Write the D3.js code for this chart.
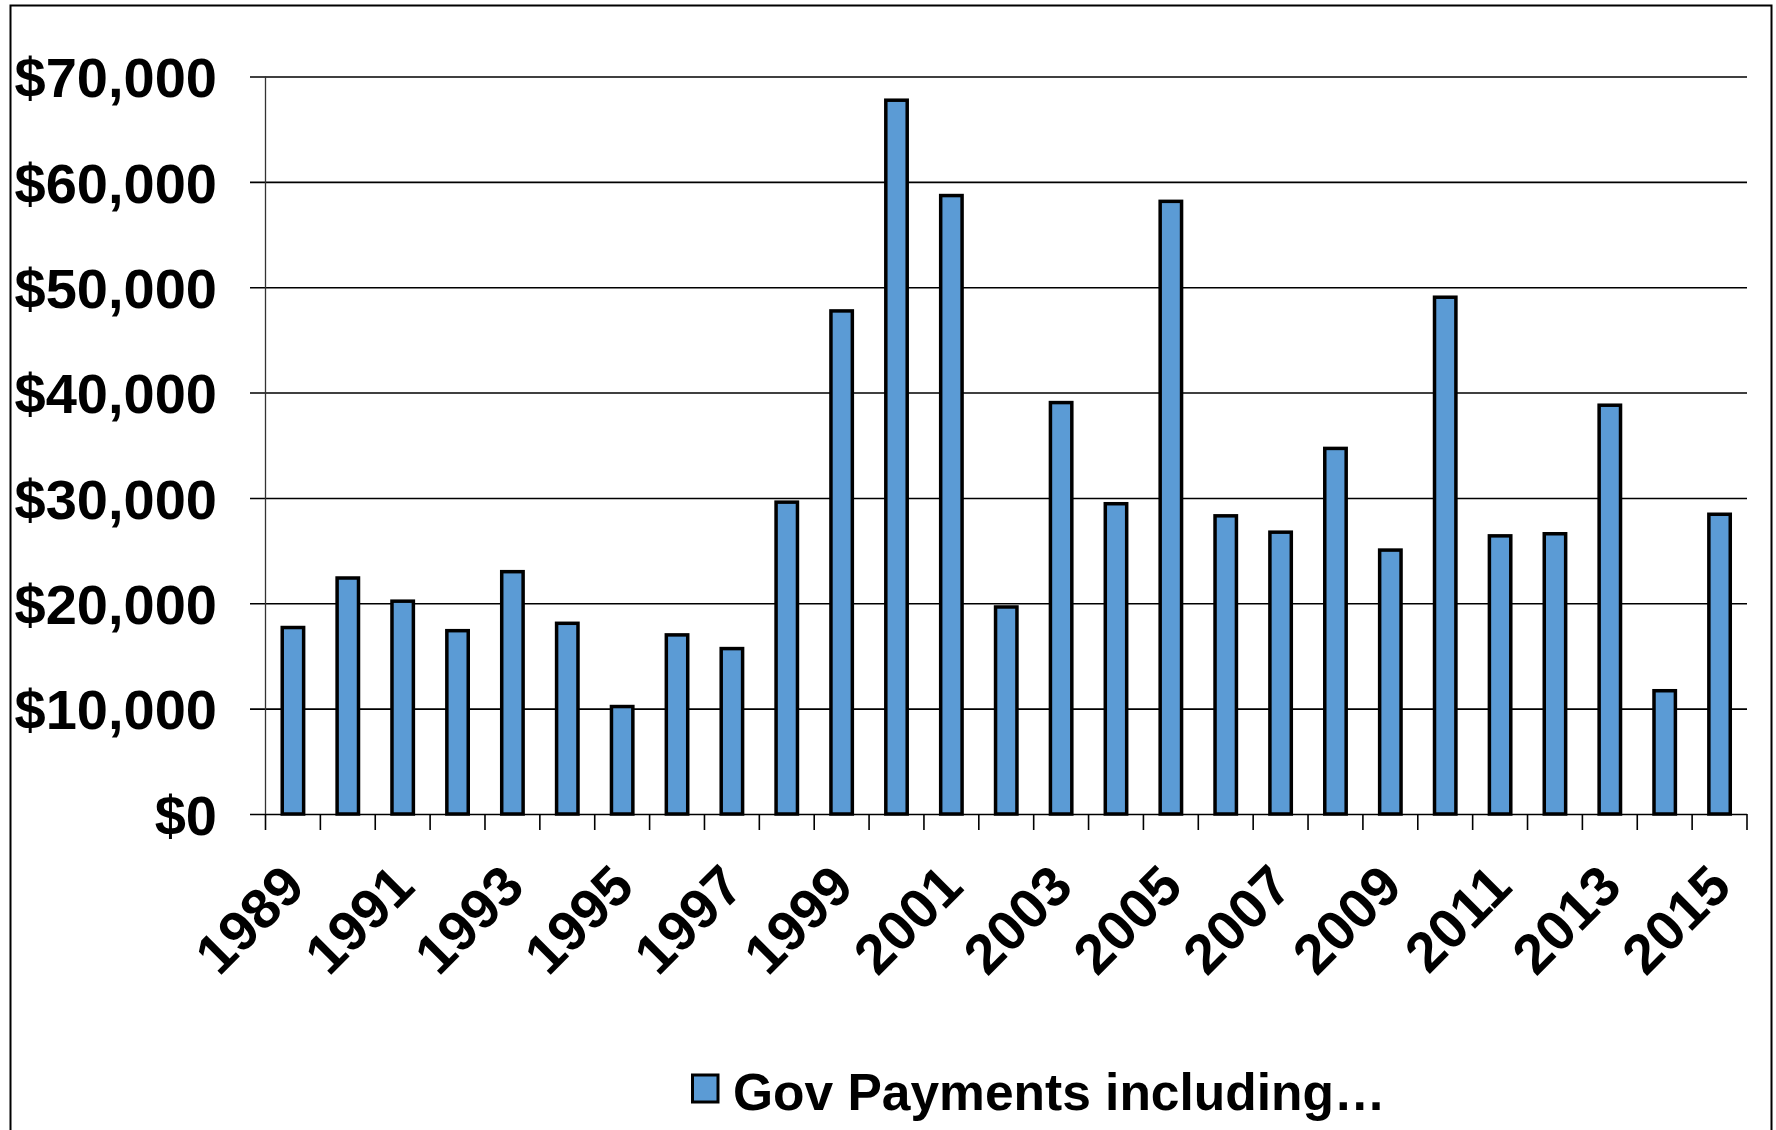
<!DOCTYPE html>
<html>
<head>
<meta charset="utf-8">
<script src="https://cdn.jsdelivr.net/npm/d3@7"></script>
<style>
  html, body { margin: 0; padding: 0; background: #fff; }
  svg { display: block; }
  text { font-family: "Liberation Sans", Arial, sans-serif; font-weight: bold; fill: #000; }
</style>
</head>
<body>
<svg id="chart" width="1776" height="1130"></svg>
<script>
const years = [1989,1990,1991,1992,1993,1994,1995,1996,1997,1998,1999,2000,2001,2002,2003,2004,2005,2006,2007,2008,2009,2010,2011,2012,2013,2014,2015];
const payments = [17700,22400,20200,17400,23000,18100,10200,17000,15700,29600,47750,67750,58700,19650,39050,29450,58150,28300,26750,34700,25050,49050,26400,26600,38800,11700,28450];
const yTicks = [0,10000,20000,30000,40000,50000,60000,70000];
const labelYears = [1989,1991,1993,1995,1997,1999,2001,2003,2005,2007,2009,2011,2013,2015];
const seriesName = "Gov Payments including\u2026";

(function () {
const svg = d3.select("#chart");
const W = 1776, H = 1130;
const pLeft = 265.5, pRight = 1747, pTop = 76.5, pBottom = 814;

// outer border
svg.append("rect").attr("x", 10.5).attr("y", 5.5).attr("width", 1761).attr("height", H + 20)
  .attr("fill", "none").attr("stroke", "#000").attr("stroke-width", 2);

const x = d3.scaleBand().domain(years).range([pLeft, pRight]).paddingInner(0.61).paddingOuter(0.305);
const y = d3.scaleLinear().domain([0, 70000]).range([pBottom, pTop]);

// y axis with gridlines
const yAxis = d3.axisLeft(y).tickValues(yTicks).tickSize(-(pRight - 250)).tickPadding(33)
  .tickFormat(d => "$" + d3.format(",")(d));
const gy = svg.append("g").attr("transform", "translate(250,0)").call(yAxis);
gy.select(".domain").remove();
gy.selectAll(".tick line").attr("stroke", "#000").attr("stroke-width", 1.6);
gy.selectAll(".tick text").attr("font-size", 56).attr("dy", "0.36em");

// vertical axis line
svg.append("line").attr("x1", pLeft).attr("x2", pLeft).attr("y1", pTop).attr("y2", pBottom)
  .attr("stroke", "#333").attr("stroke-width", 1.3);

// category boundary ticks
const step = x.step();
const boundaries = years.map(d => x(d) - (step - x.bandwidth()) / 2).concat([pRight]);
svg.append("g").selectAll("line").data(boundaries).join("line")
  .attr("x1", d => d).attr("x2", d => d).attr("y1", pBottom).attr("y2", pBottom + 16)
  .attr("stroke", "#000").attr("stroke-width", 1.6);

// bars
svg.append("g").selectAll("rect").data(years).join("rect")
  .attr("x", (d) => x(d))
  .attr("width", x.bandwidth())
  .attr("y", (d, i) => y(payments[i]))
  .attr("height", (d, i) => pBottom - y(payments[i]))
  .attr("fill", "#5B9BD5").attr("stroke", "#000").attr("stroke-width", 3.5);

// x axis labels
const xAxis = d3.axisBottom(x).tickValues(labelYears).tickSize(0).tickPadding(0);
const gx = svg.append("g").call(xAxis);
gx.select(".domain").remove();
gx.selectAll(".tick text")
  .attr("font-size", 56)
  .attr("text-anchor", "end")
  .attr("y", 0).attr("dy", "0.36em")
  .attr("transform", "translate(0,875) rotate(-45)");

// legend
const lg = svg.append("g");
lg.append("rect").attr("x", 692.5).attr("y", 1075).attr("width", 25.5).attr("height", 27)
  .attr("fill", "#5B9BD5").attr("stroke", "#000").attr("stroke-width", 3);
lg.append("text").attr("x", 733).attr("y", 1110).attr("font-size", 51.5).text(seriesName);
})();
</script>
</body>
</html>
